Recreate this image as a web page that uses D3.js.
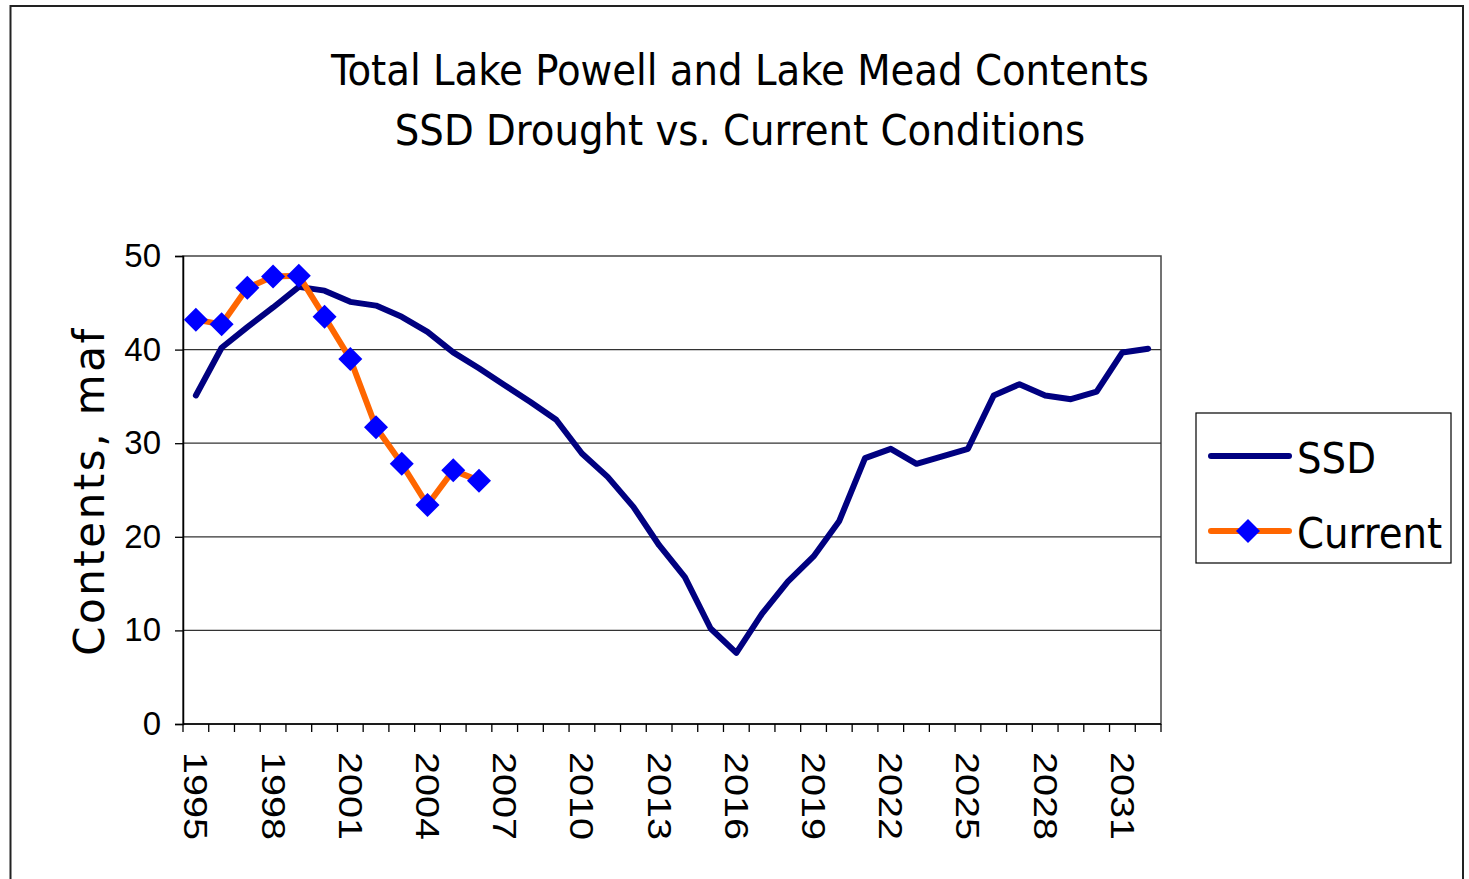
<!DOCTYPE html>
<html>
<head>
<meta charset="utf-8">
<script src="https://cdn.jsdelivr.net/npm/d3@7"></script>
<style>
  body { margin: 0; background: #fff; }
  svg { display: block; }
</style>
</head>
<body>
<div id="chart"></div>
<script>
// chart data
let years = d3.range(1995, 2033);
let yTicks = [0, 10, 20, 30, 40, 50];
let labelYears = [1995, 1998, 2001, 2004, 2007, 2010, 2013, 2016, 2019, 2022, 2025, 2028, 2031];

let ssd = [35.1, 40.2, 42.4, 44.5, 46.7, 46.3, 45.1, 44.7, 43.5, 41.9,
           39.7, 38.0, 36.2, 34.4, 32.5, 28.9, 26.4, 23.2, 19.1, 15.7,
           10.2, 7.6, 11.8, 15.2, 17.9, 21.7, 28.4, 29.4, 27.8, 28.6,
           29.4, 35.1, 36.3, 35.1, 34.7, 35.5, 39.7, 40.1];

let current = [43.2, 42.7, 46.6, 47.8, 47.9, 43.5, 39.0, 31.7, 27.8, 23.4, 27.1, 26.0];

let width = 1469, height = 879;
let plot = {left: 183, right: 1161, top: 256, bottom: 724};

let svg = d3.select("#chart").append("svg")
    .attr("width", width)
    .attr("height", height);

svg.append("rect")
    .attr("width", width).attr("height", height)
    .attr("fill", "#fff");

// outer chart frame
svg.append("rect")
    .attr("x", 10.5).attr("y", 6)
    .attr("width", 1452.5).attr("height", 920)
    .attr("fill", "none")
    .attr("stroke", "#222")
    .attr("stroke-width", 2);

let x = d3.scaleBand()
    .domain(years)
    .range([plot.left, plot.right]);

let y = d3.scaleLinear()
    .domain([0, 50])
    .range([plot.bottom, plot.top]);

let xc = function (yr) { return x(yr) + x.bandwidth() / 2; };

// title
let title = svg.append("text")
    .attr("text-anchor", "middle")
    .attr("font-family", "DejaVu Sans Condensed")
    .attr("font-size", 43)
    .attr("fill", "#000");
title.append("tspan").attr("x", 740).attr("y", 85).text("Total Lake Powell and Lake Mead Contents");
title.append("tspan").attr("x", 740).attr("y", 145).text("SSD Drought vs. Current Conditions");

// plot frame
svg.append("rect")
    .attr("x", plot.left).attr("y", plot.top)
    .attr("width", plot.right - plot.left)
    .attr("height", plot.bottom - plot.top)
    .attr("fill", "none")
    .attr("stroke", "#444")
    .attr("stroke-width", 1.5);

// gridlines
svg.append("g")
    .selectAll("line")
    .data(yTicks.filter(function (d) { return d > 0 && d < 50; }))
    .enter().append("line")
    .attr("x1", plot.left).attr("x2", plot.right)
    .attr("y1", function (d) { return y(d); })
    .attr("y2", function (d) { return y(d); })
    .attr("stroke", "#333")
    .attr("stroke-width", 1.3);

// y axis
let yAxis = svg.append("g")
    .attr("transform", "translate(" + plot.left + ",0)")
    .call(d3.axisLeft(y).tickValues(yTicks).tickSize(8).tickPadding(14));
yAxis.select(".domain").attr("stroke", "#000").attr("stroke-width", 1.5);
yAxis.selectAll(".tick line").attr("stroke", "#000").attr("stroke-width", 1.3);
yAxis.selectAll(".tick text")
    .attr("font-family", "Liberation Sans")
    .attr("font-size", 33)
    .attr("fill", "#000");

// x axis: ticks sit on the category boundaries
let xAxis = svg.append("g")
    .attr("transform", "translate(0," + plot.bottom + ")");
xAxis.append("line")
    .attr("x1", plot.left).attr("x2", plot.right)
    .attr("stroke", "#000").attr("stroke-width", 1.5);
xAxis.selectAll(".tk")
    .data(years.concat([2033]))
    .enter().append("line")
    .attr("class", "tk")
    .attr("x1", function (d) { return d === 2033 ? plot.right : x(d); })
    .attr("x2", function (d) { return d === 2033 ? plot.right : x(d); })
    .attr("y1", 0).attr("y2", 8)
    .attr("stroke", "#000").attr("stroke-width", 1.3);
// labels are stretched along the reading direction, as in the original
xAxis.selectAll(".lbl")
    .data(labelYears)
    .enter().append("text")
    .attr("class", "lbl")
    .attr("transform", function (d) { return "translate(" + xc(d) + ",28) rotate(90) scale(1.2,1)"; })
    .attr("dy", "0.35em")
    .attr("font-family", "Liberation Sans")
    .attr("font-size", 33)
    .attr("fill", "#000")
    .text(function (d) { return d; });

// y axis title
svg.append("text")
    .attr("transform", "translate(104,491) rotate(-90)")
    .attr("text-anchor", "middle")
    .attr("font-family", "DejaVu Sans")
    .attr("font-size", 42)
    .attr("letter-spacing", 2.5)
    .attr("fill", "#000")
    .text("Contents, maf");

// lines
let line = d3.line()
    .x(function (d, i) { return xc(years[i]); })
    .y(function (d) { return y(d); });

svg.append("path")
    .datum(ssd)
    .attr("d", line)
    .attr("fill", "none")
    .attr("stroke", "#000080")
    .attr("stroke-width", 6)
    .attr("stroke-linejoin", "round")
    .attr("stroke-linecap", "round");

svg.append("path")
    .datum(current)
    .attr("d", line)
    .attr("fill", "none")
    .attr("stroke", "#FF6600")
    .attr("stroke-width", 6)
    .attr("stroke-linejoin", "round");

let diamond = "M0,-12L12,0L0,12L-12,0Z";
svg.append("g")
    .selectAll("path")
    .data(current)
    .enter().append("path")
    .attr("d", diamond)
    .attr("transform", function (d, i) { return "translate(" + xc(years[i]) + "," + y(d) + ")"; })
    .attr("fill", "#0000FF");

// legend
let legend = svg.append("g");
legend.append("rect")
    .attr("x", 1196).attr("y", 413)
    .attr("width", 255).attr("height", 150)
    .attr("fill", "#fff")
    .attr("stroke", "#000")
    .attr("stroke-width", 1.2);
legend.append("line")
    .attr("x1", 1211).attr("x2", 1289)
    .attr("y1", 456).attr("y2", 456)
    .attr("stroke", "#000080").attr("stroke-width", 6)
    .attr("stroke-linecap", "round");
legend.append("line")
    .attr("x1", 1211).attr("x2", 1289)
    .attr("y1", 531).attr("y2", 531)
    .attr("stroke", "#FF6600").attr("stroke-width", 6)
    .attr("stroke-linecap", "round");
legend.append("path")
    .attr("d", diamond)
    .attr("transform", "translate(1248,531)")
    .attr("fill", "#0000FF");
legend.selectAll(".ltxt")
    .data(["SSD", "Current"])
    .enter().append("text")
    .attr("class", "ltxt")
    .attr("x", 1297)
    .attr("y", function (d, i) { return 473 + i * 75; })
    .attr("font-family", "DejaVu Sans Condensed")
    .attr("font-size", 43)
    .attr("fill", "#000")
    .text(function (d) { return d; });
</script>
</body>
</html>
